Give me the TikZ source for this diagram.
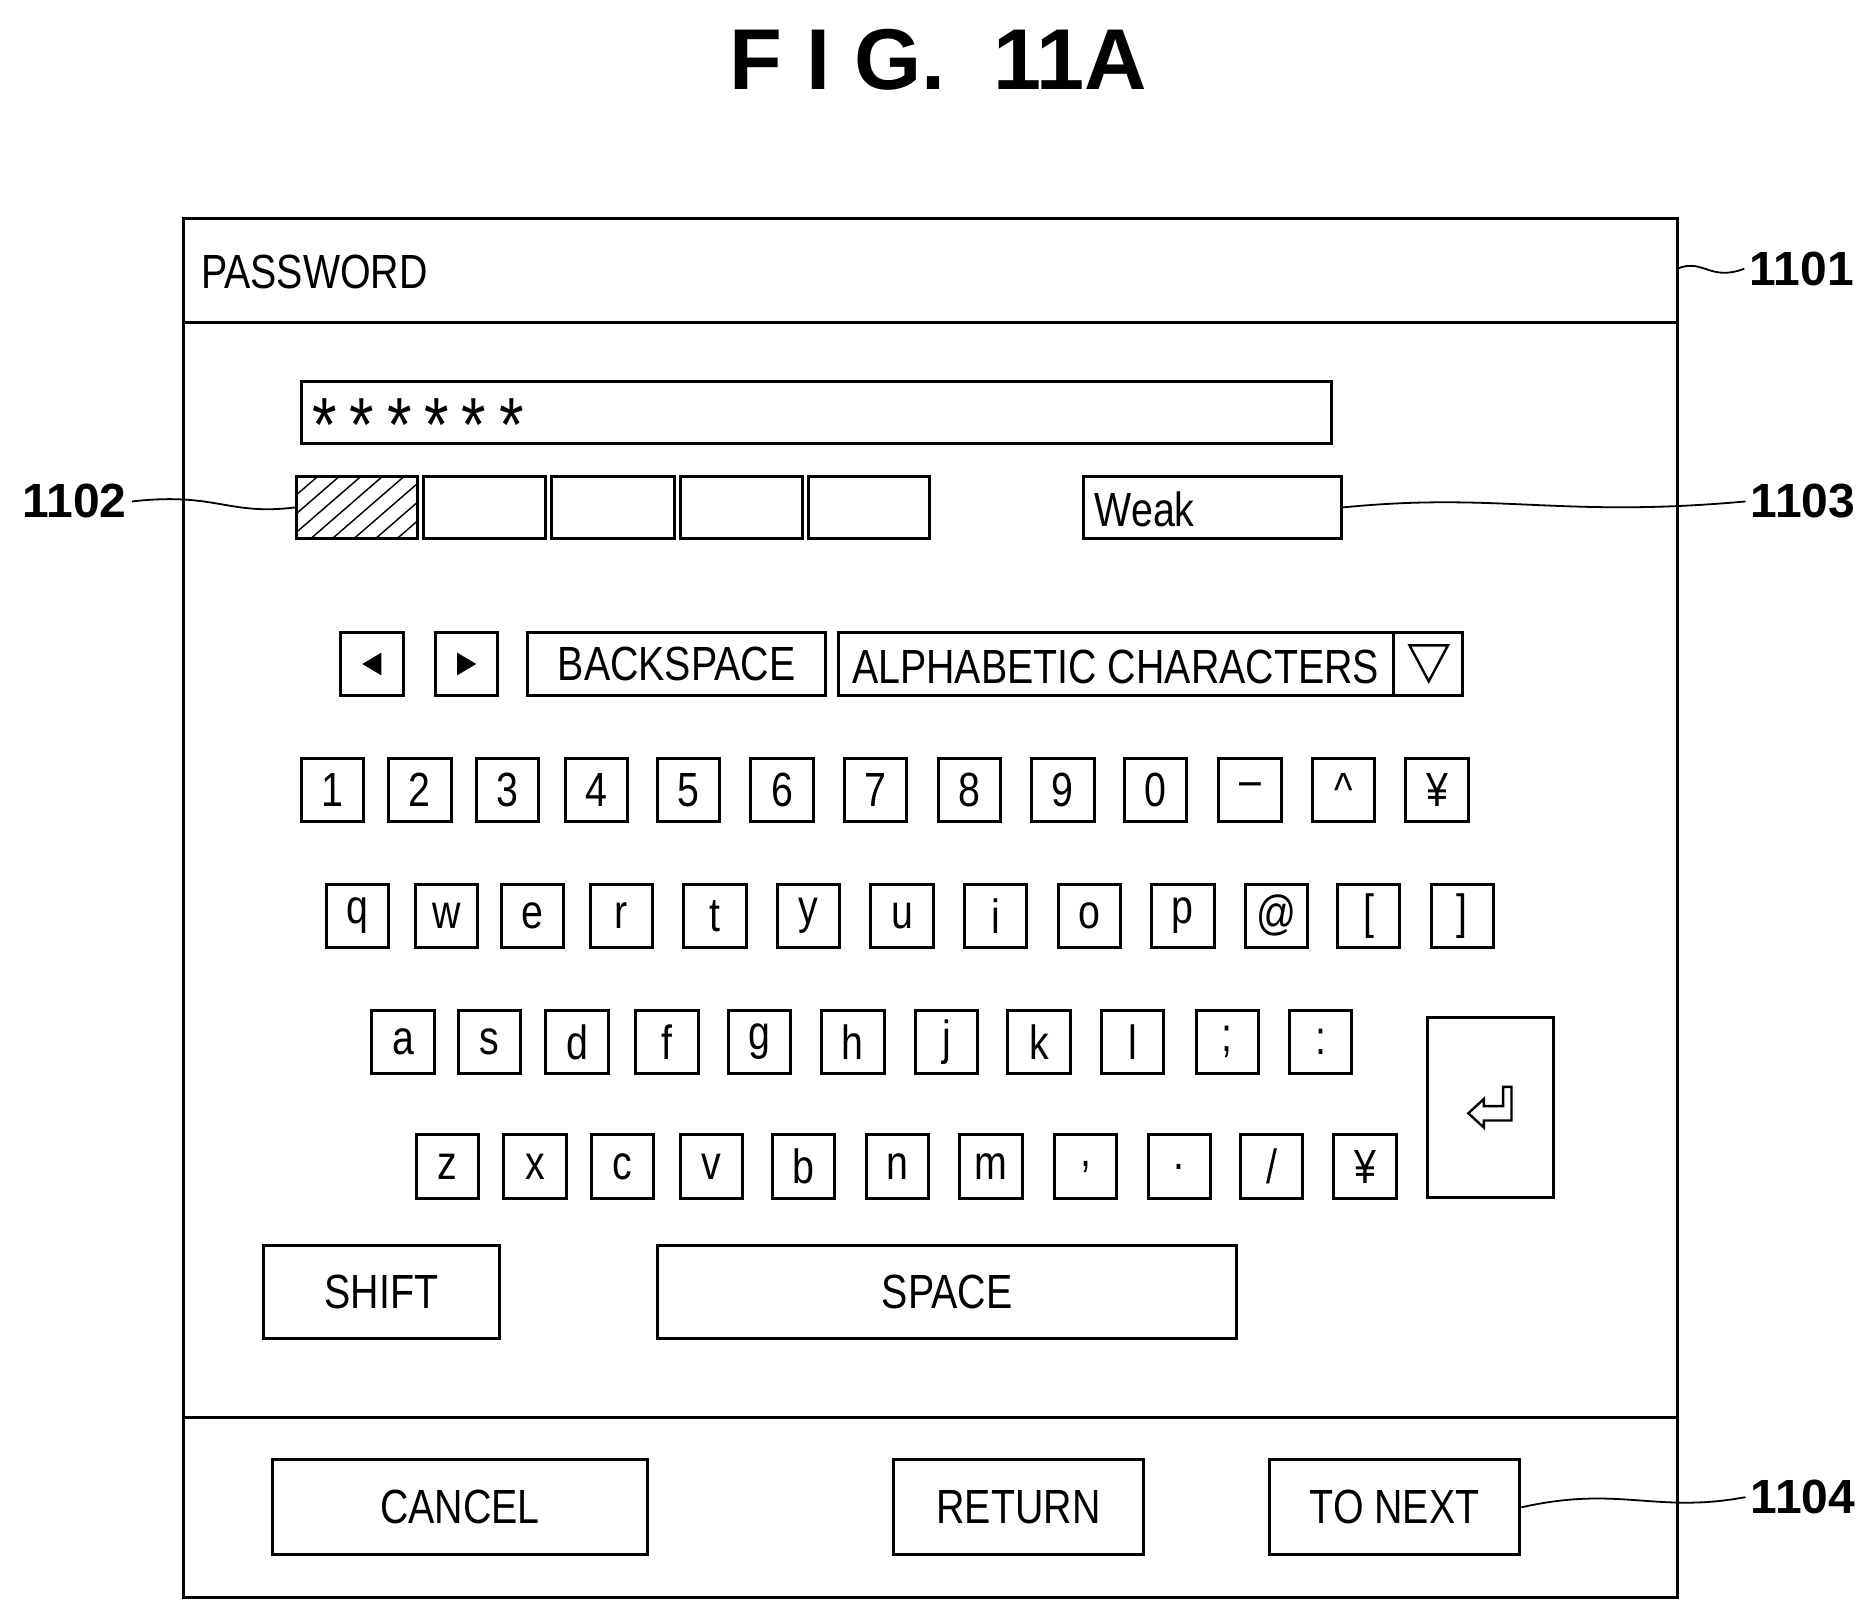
\documentclass[tikz,border=0pt]{standalone}
\usepackage{fontspec}
\setmainfont{Liberation Sans}[FakeStretch=0.82]
\newfontfamily\labfont{Liberation Sans}
\begin{document}
\begin{tikzpicture}[x=1pt,y=-1pt,line width=2.5pt,
 box/.style={draw,line width=2.5pt,inner sep=0pt},
 key/.style={box,minimum width=52pt,minimum height=53pt,font=\fontsize{40}{40}\selectfont},
 btn/.style={box,font=\fontsize{40}{40}\selectfont},
 lab/.style={font=\labfont\bfseries\fontsize{40}{40}\selectfont},
 lead/.style={line width=1.5pt}]
\useasboundingbox (0,0) rectangle (1563,1346);
\node[font=\labfont\bfseries\fontsize{72}{72}\selectfont] (title) at (782,50) {F I G.\ \ 11A};
\draw (153,182) rectangle (1398,1332);
\draw (153,269) -- (1398,269);
\draw (153,1182) -- (1398,1182);
\node[anchor=west,font=\fontsize{40}{40}\selectfont] (pw) at (163,227) {PASSWORD};
\node[box,minimum width=859pt,minimum height=52pt] (field) at (680.5,344) {};
\node[anchor=west,font=\fontsize{64}{64}\selectfont] (ast) at (256,354) {*\,*\,*\,*\,*\,*};
% strength bars
\foreach \a/\b [count=\i] in {247/348,353/455,460/562,567/669,674/775}
  \node[box,minimum width=\b-\a,minimum height=52pt] (bar\i) at ({(\a+\b)/2},423) {};
\begin{scope}
\clip (247,397) rectangle (348,449);
\foreach \t in {0,18,...,160} \draw[line width=1.2pt] (247+\t-60,449) -- (247+\t,397);
\end{scope}
\node[box,minimum width=215pt,minimum height=52pt] (weak) at (1010.5,423) {};
\node[anchor=west,font=\fontsize{40}{40}\selectfont] (weakt) at (908,425) {Weak};
% labels
\node[lab] (l1101) at (1502,224) {1101};
\node[lab] (l1102) at (62,418) {1102};
\node[lab] (l1103) at (1503,418) {1103};
\node[lab] (l1104) at (1503,1248) {1104};
\coordinate (c1101) at (1398,224);
\draw[lead] (c1101) .. controls (1420,215) and (1425,235) .. (l1101.west);
\draw[lead] (l1102.east) .. controls (180,410) and (190,430) .. (bar1.west);
\draw[lead] (weak.east) .. controls (1250,410) and (1300,432) .. (l1103.west);
% control row
\node[box,minimum width=52pt,minimum height=53pt] (left) at (310,553.5) {};
\fill (302,553.5) -- (318,544) -- (318,563) -- cycle;
\node[box,minimum width=52pt,minimum height=53pt] (right) at (389,553.5) {};
\fill (397,553.5) -- (381,544) -- (381,563) -- cycle;
\node[btn,minimum width=248pt,minimum height=53pt] (bs) at (564,553.5) {BACKSPACE};
\node[box,minimum width=520pt,minimum height=53pt] (alpha) at (959,553.5) {};
\node[font=\fontsize{40}{40}\selectfont] (alphat) at (930,556) {ALPHABETIC CHARACTERS};
\draw (1162,527) -- (1162,580);
\draw[line width=2pt] (1175,538) -- (1207,538) -- (1191,568) -- cycle;
% keys
\foreach \x/\t [count=\i] in {277/1,350/2,423/3,497/4,574/5,652/6,730/7,808/8,886/9,963/0,1042/{\raisebox{-0.3ex}{–}},1120/\textasciicircum,1198/¥}
  \node[key] (n\i) at (\x,658.5) {\t};
\foreach \x/\t [count=\i] in {298/q,372/w,444/e,518/r,596/t,674/y,752/u,830/i,908/o,986/p,1064/@,1141/[,1219/]}
  \node[key] (q\i) at (\x,763.5) {\t};
\foreach \x/\t [count=\i] in {336/a,408/s,481/d,556/f,633/g,711/h,789/j,866/k,944/l,1023/;,1101/:}
  \node[key] (a\i) at (\x,868.5) {\t};
\foreach \x/\t [count=\i] in {373/z,446/x,519/c,593/v,670/b,748/n,826/m,905/{,},983/.,1060/{/},1138/¥}
  \node[key] (z\i) at (\x,972.5) {\t};
\node[box,minimum width=105pt,minimum height=150pt] (enter) at (1242.5,923) {};
\draw[line width=2pt,line join=miter] (1253,906)--(1260,906)--(1260,934)--(1237,934)--(1237,940)--(1224,928)--(1237,916)--(1237,922)--(1253,922)--cycle;
\node[btn,minimum width=196pt,minimum height=78pt] (shift) at (318,1077) {SHIFT};
\node[btn,minimum width=483pt,minimum height=78pt] (space) at (789.5,1077) {SPACE};
\node[btn,minimum width=313pt,minimum height=79pt] (cancel) at (383.5,1256.5) {CANCEL};
\node[btn,minimum width=208pt,minimum height=79pt] (ret) at (849,1256.5) {RETURN};
\node[btn,minimum width=209pt,minimum height=79pt] (next) at (1162.5,1256.5) {TO NEXT};
\draw[lead] (next.east) .. controls (1350,1238) and (1380,1262) .. (l1104.west);
\end{tikzpicture}
\end{document}
